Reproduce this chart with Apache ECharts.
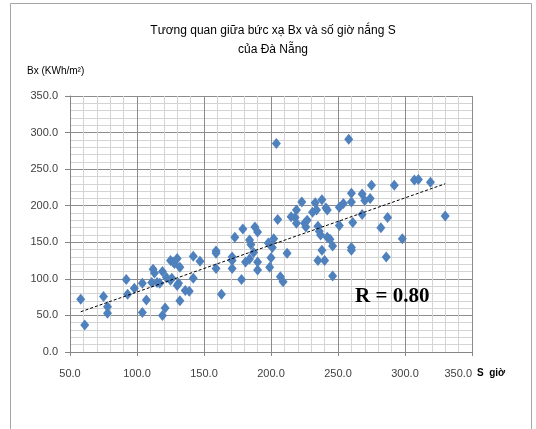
<!DOCTYPE html>
<html><head><meta charset="utf-8">
<script src="https://cdn.jsdelivr.net/npm/echarts@6/dist/echarts.min.js"></script>
<style>html,body{margin:0;padding:0;background:#fff}#c{width:536px;height:429px}</style>
</head><body><div id="c"></div>
<script>
// S (giờ), Bx (KWh/m2)
var sunHours = [58,61,75,78,78,92,93,98,104,104,107,112,113,111,115,117,119,121,119,122,125,127,130,125,128,132,126,130,131,136,139,132,142,142,147,159,159,159,163,171,171,171,173,179,178,181,184,184,185,188,190,190,190,187,198,
204,205,202,201,200,199,207,209,212,215,218,219,219,223,225,226,227,231,233,234,238,241,242,235,236,237,242,244,246,238,235,240,246,251,251,254,258,260,260,260,260,261,268,268,270,274,275,
282,287,286,292,298,307,310,319,330];
var radiation = [72,37,76,62,53,99,79,87,94,54,71,113,108,95,95,94,110,60,50,102,98,123,128,125,121,116,101,91,94,84,83,70,101,131,124,138,135,114,79,125,114,130,157,168,99,123,127,153,147,171,164,123,112,136,149,
285,181,155,143,129,116,103,96,135,185,184,176,194,205,176,171,180,191,204,194,208,197,194,172,165,160,157,154,145,139,125,125,104,198,173,203,291,217,205,143,139,177,188,216,207,210,228,
170,184,130,228,155,235,236,232,186];
var trendS = [58, 330];
var trendBx = [55, 230];
var xTicks = [50, 100, 150, 200, 250, 300, 350];
var yTicks = [0, 50, 100, 150, 200, 250, 300, 350];

var pts = sunHours.map(function(s, i){ return [s, radiation[i]]; });
var trend = trendS.map(function(s, i){ return [s, trendBx[i]]; });

var chart = echarts.init(document.getElementById('c'), null, {renderer:'canvas'});
var lab = {color:'#404040', fontSize:11, fontFamily:'Liberation Sans', formatter:function(v){return v.toFixed(1);}};
chart.setOption({
  animation:false,
  backgroundColor:'#fff',
  title:{
    text:'Tương quan giữa bức xạ Bx và số giờ nắng S\ncủa Đà Nẵng',
    left:268, top:16, textAlign:'center',
    textStyle:{fontSize:12, fontWeight:'normal', fontFamily:'Liberation Sans', color:'#000', lineHeight:19}
  },
  graphic:[
    {type:'rect', shape:{x:10.5, y:3.5, width:521, height:450}, style:{fill:'none', stroke:'#a6a6a6', lineWidth:1}, z:-1},
    {type:'text', left:27, top:66, z:100, style:{text:'Bx (KWh/m²)', fontSize:10, fontFamily:'Liberation Sans', fill:'#000'}},
    {type:'text', left:477, top:368, z:100, style:{text:'S  giờ', fontSize:10, fontWeight:'bold', fontFamily:'Liberation Sans', fill:'#000'}},
    {type:'text', left:355, top:286, z:100, style:{text:'R = 0.80', fontSize:21, fontWeight:'bold', fontFamily:'Liberation Serif', fill:'#000'}}
  ],
  grid:{left:70, right:64, top:96, bottom:77},
  xAxis:{
    type:'value', min:xTicks[0], max:xTicks[xTicks.length-1], interval:50,
    axisLine:{show:true, onZero:false, lineStyle:{color:'#868686'}},
    axisTick:{show:true, length:4, lineStyle:{color:'#868686'}},
    minorTick:{show:false, splitNumber:5},
    splitLine:{show:true, lineStyle:{color:'#8c8c8c', width:1}},
    minorSplitLine:{show:true, lineStyle:{color:'#d4d4d4', width:1}},
    axisLabel:Object.assign({margin:16, alignMaxLabel:'right'}, lab)
  },
  yAxis:{
    type:'value', min:yTicks[0], max:yTicks[yTicks.length-1], interval:50,
    axisLine:{show:true, lineStyle:{color:'#868686'}},
    axisTick:{show:true, length:5, lineStyle:{color:'#868686'}},
    minorTick:{show:false, splitNumber:5},
    splitLine:{show:true, lineStyle:{color:'#8c8c8c', width:1}},
    minorSplitLine:{show:true, lineStyle:{color:'#d4d4d4', width:1}},
    axisLabel:Object.assign({margin:12}, lab)
  },
  series:[
    {type:'scatter', data:pts, symbol:'diamond', symbolSize:[9,11], itemStyle:{color:'#4F81BD', opacity:1}, z:3},
    {type:'line', data:trend, showSymbol:false, symbol:'none', lineStyle:{color:'#000', width:1, type:[3,2]}, z:4}
  ]
});
</script></body></html>
